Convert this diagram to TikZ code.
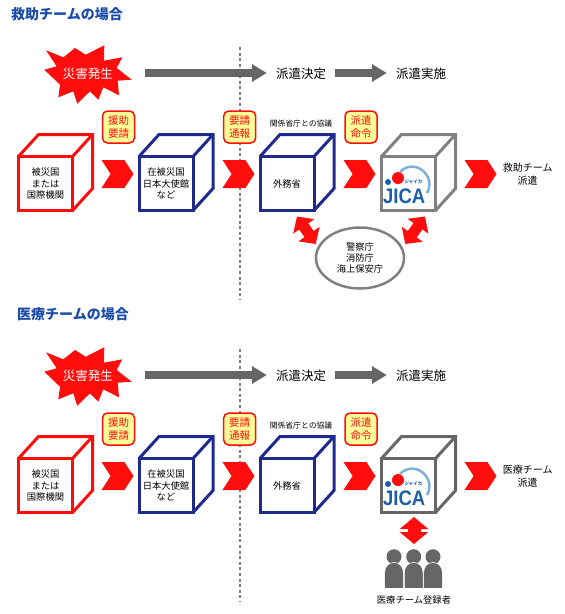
\documentclass[tikz,border=0pt]{standalone}
\usepackage{fontspec}
\setmainfont{Noto Sans CJK JP}
\newfontfamily\logofont{Liberation Sans}
\usetikzlibrary{arrows.meta, shapes.geometric, shapes.symbols}
\definecolor{cred}{HTML}{FF0D0D}
\definecolor{cnavy}{HTML}{1F2A8F}
\definecolor{cgrey}{HTML}{808080}
\definecolor{cdark}{HTML}{666666}
\definecolor{ctitle}{HTML}{1A4CA8}
\definecolor{cyellow}{HTML}{FFFF99}
\definecolor{clogo}{HTML}{1B5FAA}
\definecolor{carc}{HTML}{7FB0DC}
\tikzset{
  every picture/.style={x=1pt, y=-1pt},
  body/.style={inner sep=0pt, align=center, font=\fontsize{9.3}{11.3}\selectfont},
  title/.style={inner sep=0pt, anchor=west, text=ctitle, font=\fontsize{14}{16}\selectfont\bfseries},
  stage/.style={inner sep=0pt, font=\fontsize{12.5}{14}\selectfont},
  result/.style={inner sep=0pt, align=center, font=\fontsize{10}{12.6}\selectfont},
  cubefront/.style={draw=#1, line width=3pt, outer sep=0pt, inner sep=0pt, minimum width=54pt, minimum height=54pt, align=center, font=\fontsize{9.3}{11.3}\selectfont},
  cubeback/.style={draw=#1, line width=3pt, line join=miter},
  bubble/.style={draw=cred, fill=cyellow, line width=1.5pt, rounded corners=5pt, minimum size=32pt, inner sep=0pt, align=center, text=cred, font=\fontsize{10.5}{12.8}\selectfont},
  chevron/.style={signal, signal from=west, signal to=east, signal pointer angle=114, fill=cred, inner sep=0pt, minimum width=32pt, minimum height=28pt},
  greyarrow/.style={-{Triangle[length=15pt, width=17pt]}, draw=cdark, line width=8.5pt},
  redboth/.style={{Triangle[length=12pt, width=#1]}-{Triangle[length=12pt, width=#1]}, draw=cred},
  dotline/.style={draw=cgrey, line width=2pt, dash pattern=on 3pt off 2.6pt},
}
\begin{document}
\begin{tikzpicture}
  \useasboundingbox (0,0) rectangle (565,614);
  \node[title] (titlea) at (11,14) {救助チームの場合};
  \node[title] (titleb) at (17,314) {医療チームの場合};
  \foreach \sec/\dy/\gry/\team in {a/0/cgrey/救助チーム, b/302/cdark/医療チーム} {
    \begin{scope}[yshift=-\dy pt]
      \draw[dotline] (239.5,47) -- (239.5,300);
      % disaster
      \fill[cred] (46,50.3) -- (63.3,57.3) -- (75,48) -- (85.7,54.7) -- (104.3,45.3) -- (104,60.7) -- (122.3,57.3) -- (116.7,68) -- (131.7,79.7) -- (117.7,80.7) -- (119,95.3) -- (103.3,87.3) -- (98.3,99.7) -- (90,91.3) -- (77.3,103.7) -- (73.3,91.3) -- (58.3,97.3) -- (60,84.7) -- (44.3,69.7) -- (56.7,66.3) -- cycle;
      \node[stage, text=white, minimum width=88pt, minimum height=50pt] (\sec-burst) at (88,73.5) {災害発生};
      \node[stage, minimum width=50pt] (\sec-decide) at (301,73.5) {派遣決定};
      \node[stage, minimum width=50pt] (\sec-send) at (421,73.5) {派遣実施};
      \draw[greyarrow] ([xshift=13pt, yshift=.5pt]\sec-burst.east) -- ([xshift=-9pt, yshift=.5pt]\sec-decide.west);
      \draw[greyarrow] ([xshift=9pt, yshift=.5pt]\sec-decide.east) -- ([xshift=-9pt, yshift=.5pt]\sec-send.west);
      % cubes
      \foreach \nm/\col/\cx/\txt in {vict/cred/45.5/{被災国\\または\\国際機関}, emb/cnavy/166/{在被災国\\日本大使館\\など}, mofa/cnavy/287/{外務省}, jica/\gry/408.5/{}} {
        \node[cubefront=\col] (\sec-\nm) at (\cx,183.5) {\txt};
        \draw[cubeback=\col] (\sec-\nm.north west) -- ++(20,-22) coordinate (\sec-\nm-c) -- ++(54,0) coordinate (\sec-\nm-d) -- ++(0,54) -- (\sec-\nm.south east);
        \draw[cubeback=\col] (\sec-\nm-d) -- (\sec-\nm.north east);
      }
      % logo
      \draw[carc, line width=2.5pt] (400,172) .. controls (408,163) and (424,165) .. (429,180) .. controls (430,185) and (429,190) .. (427,193);
      \node[inner sep=0pt, text=clogo, font=\fontsize{4.5}{5}\selectfont\bfseries] (\sec-kana) at (413.5,182) {ジャイカ};
      \node[inner sep=0pt, text=clogo, anchor=base west, xscale=.88, transform shape, font=\logofont\fontsize{21}{21}\selectfont\bfseries] (\sec-logo) at (383,203) {JICA};
      \fill[clogo] (388,182) circle (3);
      \fill[cred] (398,178) circle (6);
      % chevrons and labels
      \foreach \nm/\cx in {1/117.5, 2/238.5, 3/359.5, 4/480.5} \node[chevron] (\sec-c\nm) at (\cx,174) {};
      \foreach \nm/\cx/\txt in {1/118.5/{援助\\要請}, 2/239.7/{要請\\通報}, 3/361/{派遣\\命令}} \node[bubble] (\sec-b\nm) at (\cx,127) {\txt};
      \node[inner sep=0pt, font=\fontsize{7.8}{9}\selectfont] (\sec-note) at (301,124) {関係省庁との協議};
      \node[result] (\sec-res) at (527.7,174.5) {\team\\派遣};
    \end{scope}
  }
  % rescue team only
  \node[draw=cgrey, line width=2.5pt, ellipse, minimum width=88pt, minimum height=61pt, inner sep=0pt] (agency) at (360,258) {};
  \node[body] (agencytxt) at (360,258) {警察庁\\消防庁\\海上保安庁};
  \draw[redboth=25pt, line width=11pt] ([shift={(10,6)}]a-mofa.south) -- ([shift={(1,-14)}]agency.west);
  \draw[redboth=25pt, line width=11pt] ([shift={(16.5,6)}]a-jica.south) -- ([shift={(0,-14)}]agency.east);
  % medical team only
  \foreach \px in {394,413.7,433} {
    \fill[cdark] (\px,556.7) circle (7.5);
    \fill[cdark, draw=white, line width=.6pt] (\px-9.4,588.5) -- (\px-9.4,573) .. controls (\px-9.4,566) and (\px-5,562.5) .. (\px,562.5) .. controls (\px+5,562.5) and (\px+9.4,566) .. (\px+9.4,573) -- (\px+9.4,588.5) -- cycle;
  }
  \coordinate (staff) at (414,544);
  \node[body] (stafftxt) at (414,600) {医療チーム登録者};
  \draw[redboth=28pt, line width=13pt] ([shift={(5.5,4.5)}]b-jica.south) -- (staff);
\end{tikzpicture}
\end{document}
